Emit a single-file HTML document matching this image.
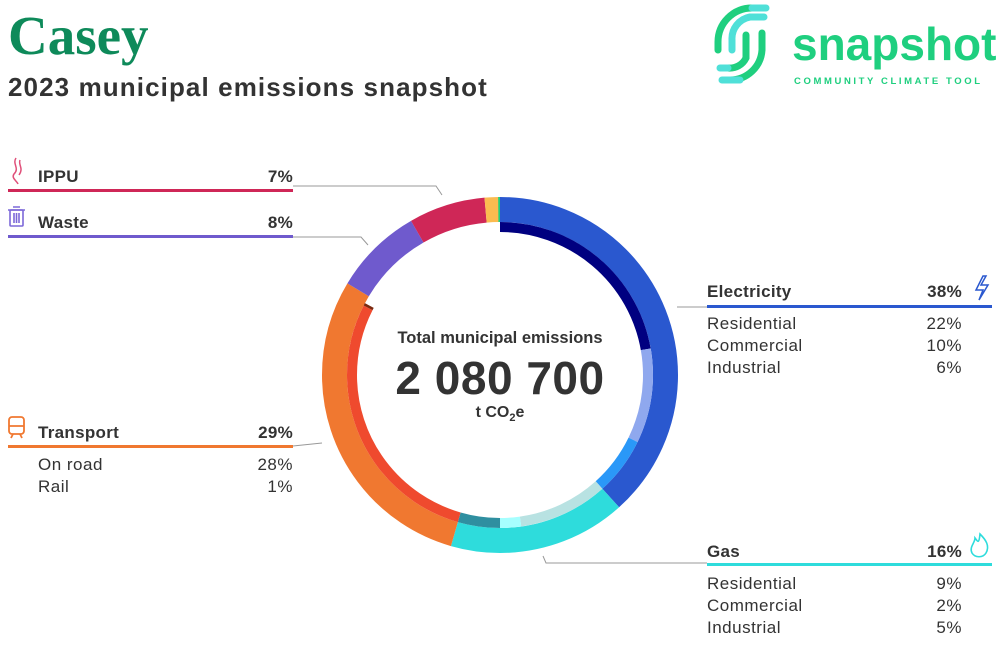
<!DOCTYPE html>
<html><head><meta charset="utf-8"><style>
body{margin:0;background:#fff;width:1000px;height:670px;overflow:hidden;position:relative;font-family:"Liberation Sans",sans-serif;color:#333}
.t{position:absolute;white-space:nowrap}
.h{font-size:17px;font-weight:bold;color:#333;letter-spacing:0.3px}
.s{font-size:17px;color:#333;letter-spacing:0.5px}
.r{text-align:right}
</style></head><body>
<div class="t" style="left:8px;top:4px;font-family:'Liberation Serif',serif;font-weight:bold;font-size:55px;color:#0e8a5a;letter-spacing:0px">Casey</div>
<div class="t" style="left:8px;top:72px;font-size:26px;font-weight:bold;color:#333;letter-spacing:1.1px">2023 municipal emissions snapshot</div>

<svg width="1000" height="670" style="position:absolute;left:0;top:0">
<g fill="none" stroke-linecap="round" stroke-width="7">
<path d="M752 8 A34 34 0 0 0 718 42 L718 50" stroke="#1fcf7f"/>
<path d="M752 8 L766 8" stroke="#4fe0d8"/>
<path d="M764 17 L750 17 A22 22 0 0 0 732 40 L732 50" stroke="#4fe0d8"/>
<path d="M746 35 L746 58 A18 18 0 0 1 728 68" stroke="#1fcf7f"/>
<path d="M762 33 L762 50 A32 32 0 0 1 730 80 L724 80" stroke="#1fcf7f"/>
<path d="M728 68 L720 68" stroke="#4fe0d8"/>
<path d="M740 80 L722 80" stroke="#4fe0d8"/>
</g>
<text x="792" y="60" font-family="Liberation Sans" font-weight="bold" font-size="46" fill="#1fcf7f">snapshot</text>
<text x="794" y="84" font-family="Liberation Sans" font-weight="bold" font-size="9.5" fill="#1fcf7f" letter-spacing="2.6">COMMUNITY CLIMATE TOOL</text>

<g transform="rotate(-90 500 375)" fill="none">
<circle cx="500" cy="375" r="165.5" stroke-width="25" pathLength="360" stroke="#2a58cf" stroke-dasharray="138 360" stroke-dashoffset="0"/>
<circle cx="500" cy="375" r="165.5" stroke-width="25" pathLength="360" stroke="#2edcdc" stroke-dasharray="58 360" stroke-dashoffset="-138"/>
<circle cx="500" cy="375" r="165.5" stroke-width="25" pathLength="360" stroke="#f07830" stroke-dasharray="105 360" stroke-dashoffset="-196"/>
<circle cx="500" cy="375" r="165.5" stroke-width="25" pathLength="360" stroke="#6f5acd" stroke-dasharray="29 360" stroke-dashoffset="-301"/>
<circle cx="500" cy="375" r="165.5" stroke-width="25" pathLength="360" stroke="#cf2757" stroke-dasharray="25 360" stroke-dashoffset="-330"/>
<circle cx="500" cy="375" r="165.5" stroke-width="25" pathLength="360" stroke="#fbbb50" stroke-dasharray="4.5 360" stroke-dashoffset="-355"/>
<circle cx="500" cy="375" r="165.5" stroke-width="25" pathLength="360" stroke="#1fcf7f" stroke-dasharray="0.6 360" stroke-dashoffset="-359.4"/>
<circle cx="500" cy="375" r="148" stroke-width="10" pathLength="360" stroke="#000080" stroke-dasharray="80 360" stroke-dashoffset="0"/>
<circle cx="500" cy="375" r="148" stroke-width="10" pathLength="360" stroke="#8fa8ee" stroke-dasharray="36 360" stroke-dashoffset="-80"/>
<circle cx="500" cy="375" r="148" stroke-width="10" pathLength="360" stroke="#2a98f8" stroke-dasharray="22 360" stroke-dashoffset="-116"/>
<circle cx="500" cy="375" r="148" stroke-width="10" pathLength="360" stroke="#b8e2e2" stroke-dasharray="34 360" stroke-dashoffset="-138"/>
<circle cx="500" cy="375" r="148" stroke-width="10" pathLength="360" stroke="#a6ffff" stroke-dasharray="8 360" stroke-dashoffset="-172"/>
<circle cx="500" cy="375" r="148" stroke-width="10" pathLength="360" stroke="#2f8fa0" stroke-dasharray="16 360" stroke-dashoffset="-180"/>
<circle cx="500" cy="375" r="148" stroke-width="10" pathLength="360" stroke="#ef4a2e" stroke-dasharray="101 360" stroke-dashoffset="-196"/>
<circle cx="500" cy="375" r="148" stroke-width="10" pathLength="360" stroke="#7a2a10" stroke-dasharray="1 360" stroke-dashoffset="-297"/>
</g>

<g fill="none" stroke="#999" stroke-width="1">
<path d="M293 186 L436 186 L442 195"/>
<path d="M293 237 L361 237 L368 245"/>
<path d="M293 446 L322 443"/>
<path d="M677 307 L707 307"/>
<path d="M543 556 L546 563 L707 563"/>
</g>
<rect x="8" y="189" width="285" height="3" fill="#cf2757"/>
<rect x="8" y="235" width="285" height="3" fill="#6f5acd"/>
<rect x="8" y="445" width="285" height="3" fill="#f07830"/>
<rect x="707" y="305" width="285" height="3" fill="#2a58cf"/>
<rect x="707" y="563" width="285" height="3" fill="#2edcdc"/>

<path d="M16 158 C12 164 20 168 14 174 C11 178 17 181 18 184 M20 160 C18 165 24 168 19 175" fill="none" stroke="#e0507a" stroke-width="1.5"/>
<g fill="none" stroke="#7c68d8" stroke-width="1.6"><rect x="10" y="210" width="13" height="16" rx="1"/><path d="M8 210 L25 210 M13 207 L20 207 M14 213 V223 M16.5 213 V223 M19 213 V223"/></g>
<g fill="none" stroke="#f07830" stroke-width="1.8"><rect x="9" y="417" width="15" height="17" rx="3"/><path d="M9 426 H24 M11 438 L13 434 M22 438 L20 434"/></g>
<path d="M983 276 L976 290 L983 290 L979 300 L988 285 L981 285 L986 276 Z" fill="none" stroke="#2a58cf" stroke-width="1.5"/>
<path d="M980 534 C986 540 990 546 986 553 C983 558 975 558 972 553 C969 547 975 543 975 538 C978 542 979 544 980 534 Z" fill="none" stroke="#2edcdc" stroke-width="1.6"/>
</svg>

<div class="t h" style="left:38px;top:167px">IPPU</div><div class="t h r" style="left:193px;width:100px;top:167px">7%</div>
<div class="t h" style="left:38px;top:213px">Waste</div><div class="t h r" style="left:193px;width:100px;top:213px">8%</div>
<div class="t h" style="left:38px;top:423px">Transport</div><div class="t h r" style="left:193px;width:100px;top:423px">29%</div>
<div class="t s" style="left:38px;top:455px">On road</div><div class="t s r" style="left:193px;width:100px;top:455px">28%</div>
<div class="t s" style="left:38px;top:477px">Rail</div><div class="t s r" style="left:193px;width:100px;top:477px">1%</div>

<div class="t h" style="left:707px;top:282px">Electricity</div><div class="t h r" style="left:862px;width:100px;top:282px">38%</div>
<div class="t s" style="left:707px;top:314px">Residential</div><div class="t s r" style="left:862px;width:100px;top:314px">22%</div>
<div class="t s" style="left:707px;top:336px">Commercial</div><div class="t s r" style="left:862px;width:100px;top:336px">10%</div>
<div class="t s" style="left:707px;top:358px">Industrial</div><div class="t s r" style="left:862px;width:100px;top:358px">6%</div>

<div class="t h" style="left:707px;top:542px">Gas</div><div class="t h r" style="left:862px;width:100px;top:542px">16%</div>
<div class="t s" style="left:707px;top:574px">Residential</div><div class="t s r" style="left:862px;width:100px;top:574px">9%</div>
<div class="t s" style="left:707px;top:596px">Commercial</div><div class="t s r" style="left:862px;width:100px;top:596px">2%</div>
<div class="t s" style="left:707px;top:618px">Industrial</div><div class="t s r" style="left:862px;width:100px;top:618px">5%</div>

<div class="t" style="left:380px;width:240px;text-align:center;top:329px;font-size:16.5px;font-weight:bold;color:#333">Total municipal emissions</div>
<div class="t" style="left:360px;width:280px;text-align:center;top:351px;font-size:46px;font-weight:bold;color:#333;letter-spacing:0.5px">2 080 700</div>
<div class="t" style="left:400px;width:200px;text-align:center;top:404px;font-size:16px;font-weight:bold;color:#333">t CO<sub style="font-size:11px">2</sub>e</div>
</body></html>
